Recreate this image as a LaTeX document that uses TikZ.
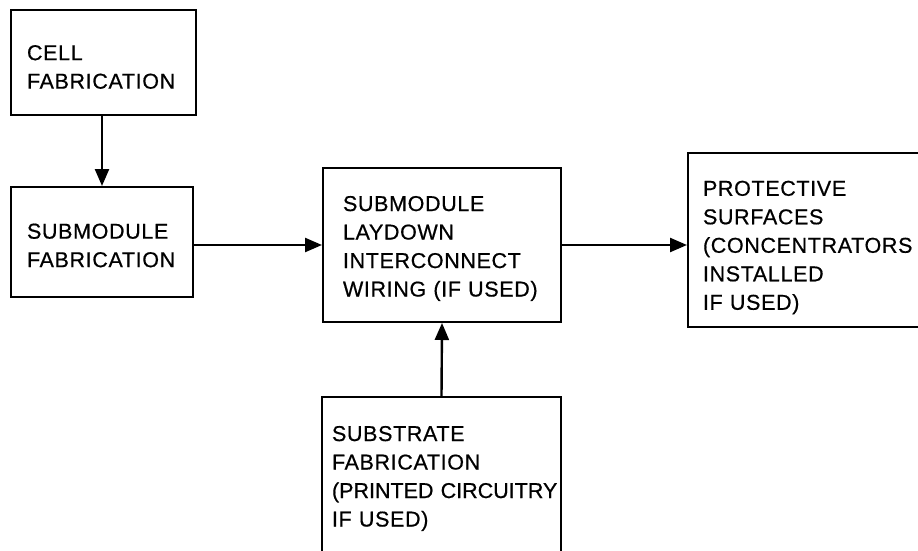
\documentclass[tikz,border=0pt]{standalone}
\usepackage{fontspec}
\setmainfont[LetterSpace=3,FakeBold=0.6]{Liberation Sans}
\newfontfamily\tightfont[FakeBold=0.6]{Liberation Sans}
\usetikzlibrary{arrows.meta}
\begin{document}
\begin{tikzpicture}[x=1pt,y=-1pt,
  box/.style={draw=black, line width=2pt, fill=white, align=left,
    font=\fontsize{21.5}{28.5}\selectfont, inner ysep=0pt,
    execute at begin node={\hyphenpenalty=10000\exhyphenpenalty=10000}},
  lower/.style={execute at begin node={\rule{0pt}{#1}}},
  flow/.style={line width=2.4pt, -{Triangle[length=17pt,width=14pt]}}]
  \useasboundingbox (0,0) rectangle (918,551);
  \clip (0,0) rectangle (918,551);
  \fill[white] (0,0) rectangle (918,551);

  % process boxes
  \node[box, lower=24pt, minimum width=185pt, minimum height=105pt,
        inner xsep=16pt, text width=153pt] (cell) at (103.5,62.5)
        {CELL\\FABRICATION};
  \node[box, lower=22pt, minimum width=182pt, minimum height=110pt,
        inner xsep=16pt, text width=150pt] (sub) at (102,242)
        {SUBMODULE\\FABRICATION};
  \node[box, lower=22pt, minimum width=238pt, minimum height=154pt,
        inner xsep=20pt, text width=198pt] (lay) at (442,245)
        {SUBMODULE\\LAYDOWN\\INTERCONNECT\\WIRING (IF USED)};
  \node[box, lower=30pt, minimum width=250pt, minimum height=174pt,
        inner xsep=15pt, text width=220pt] (prot) at (813,240)
        {PROTECTIVE\\SURFACES\\(CONCENTRATORS\\INSTALLED\\IF USED)};
  \node[box, lower=20pt, minimum width=239pt, minimum height=158pt,
        inner xsep=10pt, text width=219pt] (subs) at (441.5,476)
        {SUBSTRATE\\FABRICATION\\{\tightfont(PRINTED~CIRCUITRY}\\IF USED)};

  % flow arrows
  \draw[flow] (cell.south -| sub.north) -- (sub.north);
  \draw[flow] (sub.east |- lay.west) -- (lay.west);
  \draw[flow] (lay.east) -- (lay.east -| prot.west);
  \draw[flow] (subs.north) -- (lay.south);
\end{tikzpicture}
\end{document}
